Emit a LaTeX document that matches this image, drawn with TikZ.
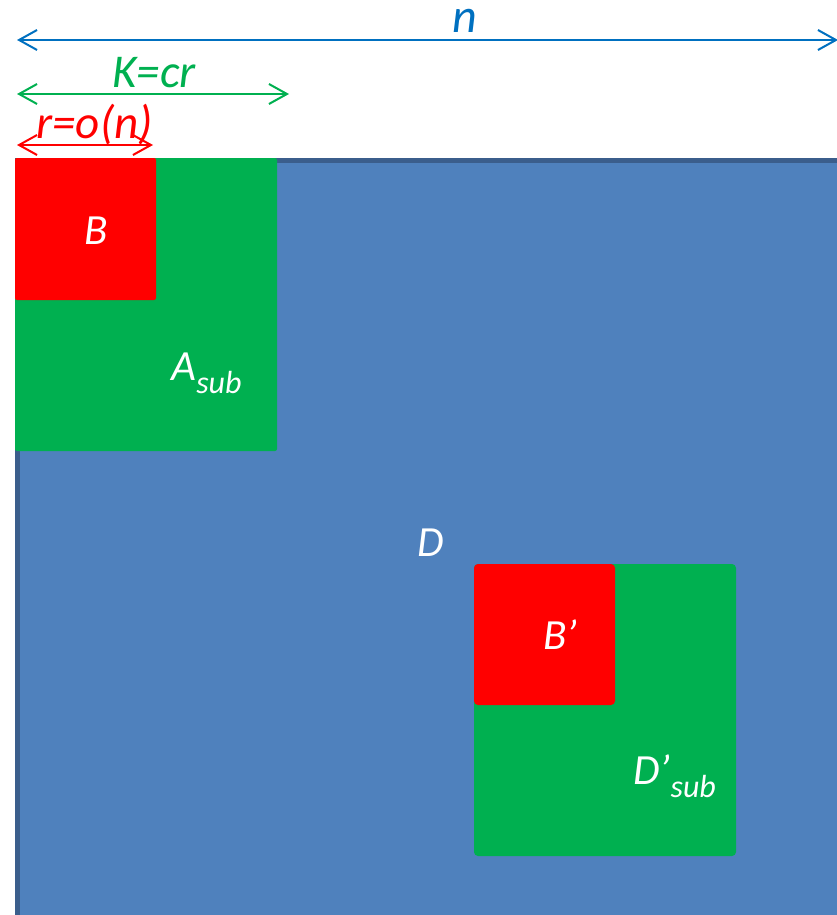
\documentclass[tikz,border=0pt]{standalone}
\usepackage{fontspec}
\setmainfont{Carlito}
\usetikzlibrary{arrows.meta}
\definecolor{matblue}  {HTML}{4F81BD}
\definecolor{matedge}  {HTML}{3B5E8C}
\definecolor{subgreen} {HTML}{00B050}
\definecolor{blockred} {HTML}{FF0000}
\definecolor{dimblue}  {HTML}{0070C0}
\newcommand{\subtxt}[1]{\raisebox{-6.5pt}{\fontsize{16}{18}\selectfont #1}}
\tikzset{
  dim/.style={line width=1pt, {Straight Barb[length=9pt,width=10pt]}-{Straight Barb[length=9pt,width=10pt]}},
  lbl/.style={font=\fontsize{21.5}{26}\selectfont\itshape, inner sep=0pt, anchor=base west},
  inlbl/.style={lbl, text=white}
}
\begin{document}
\begin{tikzpicture}[x=0.5pt, y=-0.5pt]
      \useasboundingbox (0,0) rectangle (836,915);
      % matrix D
      \fill[matedge] (15,158) rectangle (845,925);
      \fill[matblue] (20,163) rectangle (845,925);
      % upper left block
      \fill[subgreen, rounded corners=1pt] (15,158) rectangle (277,451);
      \fill[blockred, rounded corners=1pt] (15,158) rectangle (156,300);
      % inner block
      \fill[subgreen, rounded corners=2pt] (474,564) rectangle (736,856);
      \fill[blockred, rounded corners=2pt] (474,564) rectangle (615,705);
      \node[inlbl] (b) at (84,244) {B};
      \node[inlbl] (asub) at (171,380) {A\subtxt{sub}};
      \node[inlbl] (d) at (417,556) {D};
      \node[inlbl] (bp) at (543,649) {B’};
      \node[inlbl] (dsub) at (633,784) {D’\subtxt{sub}};
      % dimensions
      \coordinate (n0) at (17,40);  \coordinate (n1) at (838,40);
      \coordinate (k0) at (17,94);  \coordinate (k1) at (289,94);
      \coordinate (r0) at (17,145); \coordinate (r1) at (153,145);
      \draw[dim, dimblue] (n0) -- (n1);
      \draw[dim, subgreen] (k0) -- (k1);
      \draw[dim, blockred] (r0) -- (r1);
      \node[lbl, text=dimblue, font=\fontsize{24}{28}\selectfont\itshape] (nlbl) at (452,33) {n};
      \node[lbl, text=subgreen, font=\fontsize{23.5}{27}\selectfont\itshape] (klbl) at (112,88) {K=cr};
      \node[lbl, text=blockred, font=\fontsize{23.5}{27}\selectfont\itshape] (rlbl) at (36,139) {r=o(n)};
    \end{tikzpicture}
\end{document}
